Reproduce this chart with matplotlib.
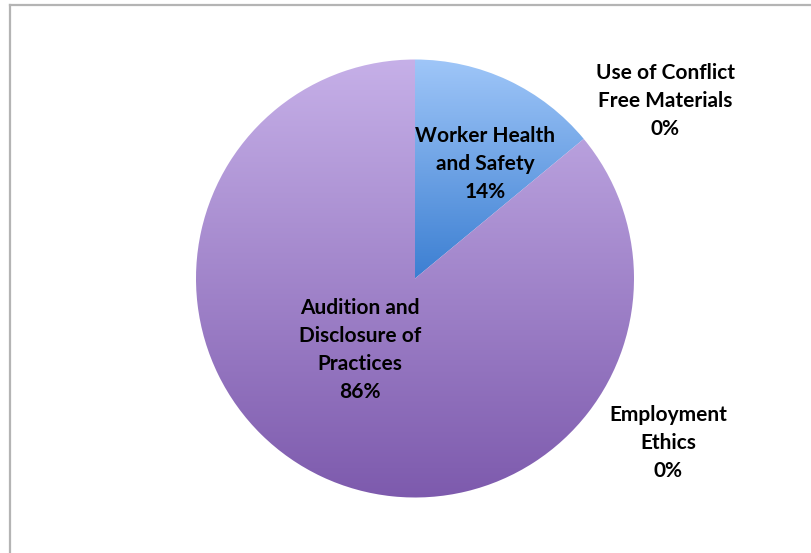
import matplotlib
matplotlib.use("Agg")
import matplotlib.pyplot as plt
import numpy as np
from matplotlib.colors import LinearSegmentedColormap
from matplotlib.lines import Line2D

# slice data, clockwise from 12 o'clock
categories = ["Worker Health\nand Safety", "Use of Conflict\nFree Materials",
              "Employment\nEthics", "Audition and\nDisclosure of\nPractices"]
shares = [14, 0, 0, 86]
# gradient ends (top, bottom) for each slice
grad_top = ["#9fc6f8", "#c6b0e8", "#c6b0e8", "#c6b0e8"]
grad_bottom = ["#3c7fd2", "#7d5aad", "#7d5aad", "#7d5aad"]

W, H = 811, 553
fig = plt.figure(figsize=(W / 100, H / 100), dpi=100)
ax = fig.add_axes([0, 0, 1, 1])

cx, cy, r = 415, H - 278.5, 219
wedges, _ = ax.pie(shares, startangle=90, counterclock=False,
                   center=(cx, cy), radius=r, frame=True,
                   wedgeprops=dict(linewidth=0))
ax.set_xlim(0, W)
ax.set_ylim(0, H)
ax.set_aspect("equal")
ax.axis("off")

grad = np.linspace(1, 0, 256).reshape(-1, 1)
for w, c0, c1 in zip(wedges, grad_top, grad_bottom):
    w.set_facecolor("none")
    cmap = LinearSegmentedColormap.from_list("g", [c1, c0])
    # each wedge gets a top-to-bottom gradient over its own height
    verts = w.get_path().vertices
    y0, y1 = verts[:, 1].min(), verts[:, 1].max()
    if y1 - y0 < 1:
        continue
    im = ax.imshow(grad, cmap=cmap, aspect="auto", origin="upper",
                   extent=(cx - r, cx + r, y0, y1), zorder=1)
    im.set_clip_path(w)
ax.set_xlim(0, W)
ax.set_ylim(0, H)

# labels
lab_pos = [(485, 164), (665, 101), (668, 443), (360, 350)]
for name, val, (x, y) in zip(categories, shares, lab_pos):
    ax.text(x, H - y, f"{name}\n{val}%", ha="center", va="center",
            fontsize=15, fontweight="bold", family="Lato",
            linespacing=1.5, zorder=3)

# thin grey frame on left/top edges
fig.add_artist(Line2D([9.5 / W, 9.5 / W], [0, 1 - 5 / H], color="#b4b4b4",
                      lw=1.6, transform=fig.transFigure))
fig.add_artist(Line2D([9.5 / W, 1], [1 - 5 / H, 1 - 5 / H], color="#b4b4b4",
                      lw=1.6, transform=fig.transFigure))

fig.savefig("out.png", dpi=100)
